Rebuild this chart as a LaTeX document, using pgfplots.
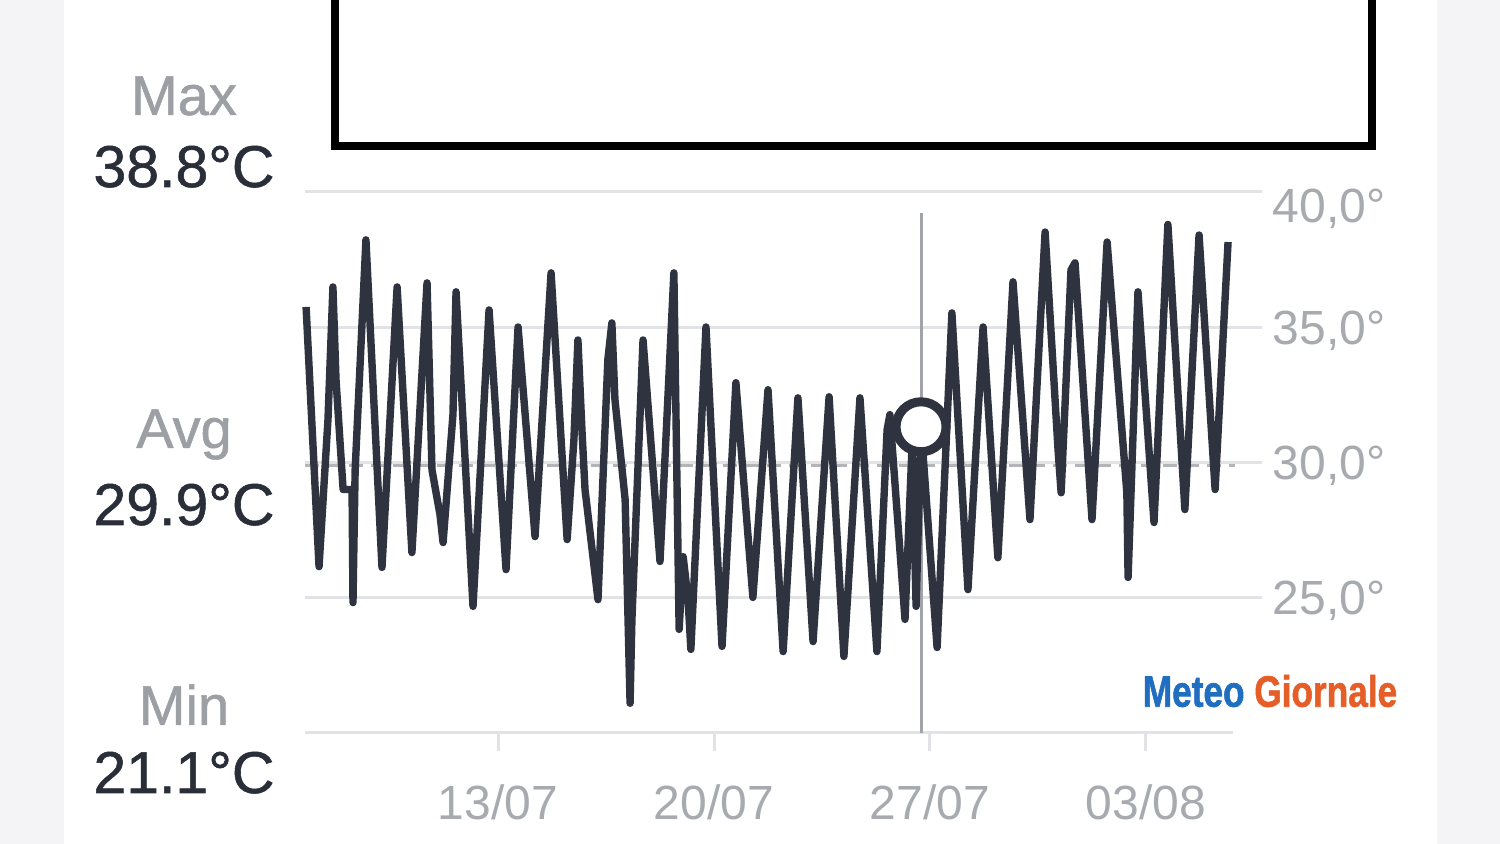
\documentclass[border=0pt]{standalone}
\usepackage{pgfplots}
\pgfplotsset{compat=1.18}
\usepackage{fontspec}
\setmainfont{Liberation Sans}
\newfontfamily\medfont{Liberation Sans}[FakeBold=0.9]
\newfontfamily\logofont{Liberation Sans Bold}[FakeBold=1.4]

\definecolor{margin}{HTML}{F4F4F7}
\definecolor{labgray}{HTML}{9C9FA4}
\definecolor{tickgray}{HTML}{A7AAAF}
\definecolor{valdark}{HTML}{2A2E39}
\definecolor{linecol}{HTML}{2F3340}
\definecolor{gridcol}{HTML}{E2E3E6}
\definecolor{vlinecol}{HTML}{A0A3A8}
\definecolor{avgcol}{HTML}{B3B5B9}
\definecolor{mgblue}{HTML}{1F6EBF}
\definecolor{mgorange}{HTML}{E65E27}

\begin{document}
\begin{tikzpicture}
\useasboundingbox (0,0) rectangle (750pt,422pt);
\fill[margin] (0,0) rectangle (750pt,422pt);

% decoration in pixel units (origin top left)
\begin{scope}[x=0.5pt,y=-0.5pt,yshift=422pt]
  \fill[white] (64,0) rectangle (1437,844);
  \draw[black, line width=3.8pt, fill=white] (335,-20) rectangle (1372,146);
  \node[labgray, anchor=base, font=\medfont\fontsize{28}{28}\selectfont] at (184,115) {Max};
  \node[valdark, anchor=base, font=\medfont\fontsize{29.5}{29.5}\selectfont] at (184,187) {38.8°C};
  \node[labgray, anchor=base, font=\medfont\fontsize{28}{28}\selectfont] at (184,448) {Avg};
  \node[valdark, anchor=base, font=\medfont\fontsize{29.5}{29.5}\selectfont] at (184,525) {29.9°C};
  \node[labgray, anchor=base, font=\medfont\fontsize{28}{28}\selectfont] at (184,725) {Min};
  \node[valdark, anchor=base, font=\medfont\fontsize{29.5}{29.5}\selectfont] at (184,793) {21.1°C};
  \node[anchor=center, font=\logofont\fontsize{20}{20}\selectfont] at (1270,691)
    {\scalebox{0.88}[1.1]{\color{mgblue}Meteo\ \color{mgorange}Giornale}};
\end{scope}

\begin{axis}[
  at={(152.5pt,55.5pt)}, anchor=south west,
  scale only axis, width=478.5pt, height=270.5pt,
  xmin=6.745, xmax=37.76, ymin=20, ymax=40,
  axis line style={draw=none},
  clip=false,
  xtick={13,20,27,34},
  xticklabels={13/07,20/07,27/07,03/08},
  xtick pos=lower, xtick align=outside,
  major tick length=9pt,
  xtick style={draw=gridcol, line width=1.5pt},
  ytick={25,30,35},
  yticklabels={25{,}0°,30{,}0°,35{,}0°},
  extra y ticks={40},
  extra y tick labels={40{,}0°},
  extra y tick style={grid=major, yticklabel style={yshift=-6.75pt}},
  ytick style={draw=none},
  yticklabel pos=right,
  ymajorgrids,
  grid style={draw=gridcol, line width=1.5pt},
  tick label style={font=\fontsize{24}{24}\selectfont, text=tickgray},
  yticklabel style={anchor=base west, inner sep=0pt, xshift=5.25pt, yshift=-8.6pt},
  xticklabel style={anchor=base, inner sep=0pt, yshift=-34.5pt},
]
% bottom axis line and average line
\addplot[gridcol, line width=1.5pt] coordinates {(6.745,20) (36.82,20)};
\addplot[avgcol, line width=1.5pt, dash pattern=on 7pt off 4pt] coordinates {(6.745,29.9) (36.88,29.9)};
% cursor
\addplot[vlinecol, line width=1.5pt] coordinates {(26.71,20) (26.71,39.22)};
% hourly temperature
\addplot[linecol, line width=3.7pt, line join=round] coordinates {
(6.78,35.75) (7.20,26.15) (7.49,31.6) (7.65,36.49) (7.75,33.06) (7.98,29.0)
(8.27,29.0) (8.30,24.82) (8.37,29.73) (8.72,38.23) (9.24,26.12) (9.73,36.49)
(10.21,26.67) (10.70,36.64) (10.86,29.73) (11.12,28.07) (11.22,27.04) (11.54,31.77)
(11.64,36.31) (12.19,24.68) (12.71,35.64) (13.26,26.04) (13.65,35.01) (14.20,27.26)
(14.72,37.01) (15.24,27.15) (15.46,30.84) (15.59,34.53) (15.72,31.21) (15.82,29.0)
(16.24,24.93) (16.56,33.80) (16.69,35.16) (16.79,32.32) (17.12,28.63) (17.28,21.1)
(17.34,24.2) (17.70,34.53) (18.25,26.34) (18.70,37.01) (18.87,23.83) (19.00,26.52)
(19.16,24.93) (19.25,23.09) (19.74,35.01) (20.26,23.20) (20.71,32.95) (21.26,25.01)
(21.75,32.69) (22.24,23.01) (22.72,32.39) (23.21,23.38) (23.73,32.43) (24.21,22.83)
(24.73,32.39) (25.28,23.01) (25.61,31.21) (25.70,31.77) (26.19,24.2) (26.42,30.66)
(26.55,24.68) (26.71,31.32) (27.23,23.16) (27.71,35.53) (28.23,25.30) (28.72,35.01)
(29.20,26.48) (29.69,36.68) (30.24,27.89) (30.73,38.52) (31.15,30.47) (31.25,28.88)
(31.57,37.12) (31.70,37.38) (32.25,27.89) (32.74,38.15) (33.38,28.88) (33.42,25.75)
(33.74,36.31) (34.26,27.78) (34.71,38.8) (35.26,28.26) (35.72,38.41) (36.24,29.0)
(36.66,38.15)
};
% selected point
\addplot[only marks, mark=*, mark size=12.5pt,
  mark options={fill=white, draw=linecol, line width=4.5pt}] coordinates {(26.71,31.32)};
\end{axis}
\end{tikzpicture}
\end{document}
